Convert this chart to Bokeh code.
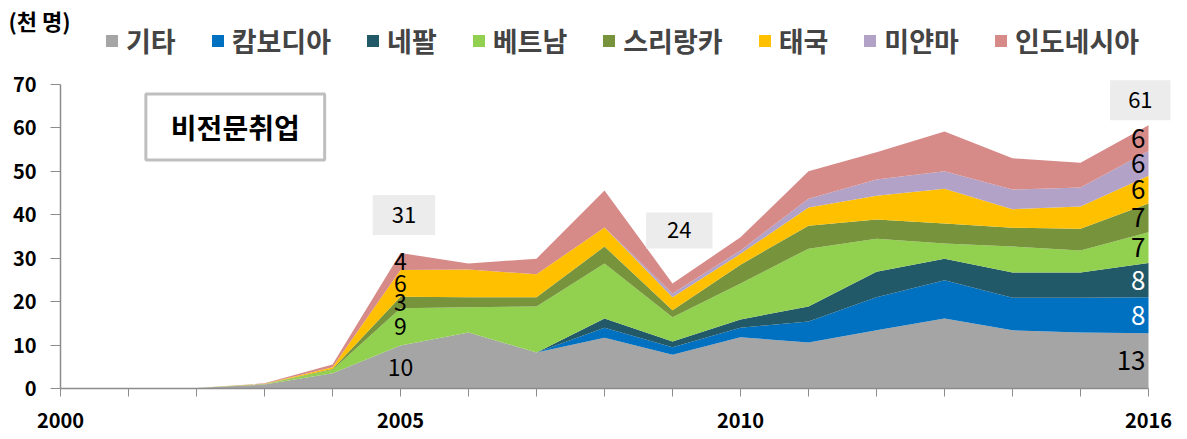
from bokeh.plotting import figure
from bokeh.models import ColumnDataSource, Range1d, FixedTicker, Legend, LegendItem, Label
from bokeh.core.properties import value
from bokeh.embed import file_html
from bokeh.resources import INLINE

# ---------------- data ----------------
years = list(range(2000, 2017))
series_names = ["기타", "캄보디아", "네팔", "베트남", "스리랑카", "태국", "미얀마", "인도네시아"]

etc_vals       = [0, 0, 0.1, 0.9, 3.5, 9.9, 12.9, 8.3, 11.7, 7.8, 11.8, 10.6, 13.4, 16.1, 13.4, 12.9, 12.7]
cambodia_vals  = [0, 0, 0, 0, 0, 0, 0, 0, 2.3, 1.7, 2.2, 4.8, 7.6, 8.8, 7.5, 8.0, 8.3]
nepal_vals     = [0, 0, 0, 0, 0, 0, 0, 0, 2.1, 1.3, 1.9, 3.5, 5.9, 5.0, 5.8, 5.8, 7.9]
vietnam_vals   = [0, 0, 0, 0.1, 0.8, 8.6, 5.8, 10.6, 12.7, 5.6, 8.3, 13.3, 7.6, 3.5, 6.0, 5.1, 7.1]
srilanka_vals  = [0, 0, 0, 0.05, 0.2, 2.6, 2.3, 2.1, 3.9, 1.6, 4.3, 5.3, 4.4, 4.6, 4.3, 5.0, 6.6]
thailand_vals  = [0, 0, 0, 0.05, 0.4, 6.2, 6.4, 5.3, 4.4, 3.0, 2.5, 4.2, 5.5, 8.0, 4.3, 5.1, 6.4]
myanmar_vals   = [0, 0, 0, 0, 0, 0, 0, 0, 0, 0.9, 0.8, 2.0, 3.7, 4.0, 4.5, 4.4, 5.7]
indonesia_vals = [0, 0, 0, 0.1, 0.6, 3.9, 1.4, 3.6, 8.5, 2.3, 3.0, 6.3, 6.3, 9.2, 7.2, 5.7, 5.9]

x_tick_labels = {2000: "2000", 2005: "2005", 2010: "2010", 2016: "2016"}
y_ticks = [0, 10, 20, 30, 40, 50, 60, 70]
unit_text = "(천 명)"
box_title = "비전문취업"
total_years = [2005, 2009, 2016]

# ---------------- layout / styles ----------------
W, H = 1187, 439
AX_L, AX_R, AX_T, AX_B = 60, 1148, 84, 388          # pixel box of the axes
X0, X1, Y0, Y1 = 2000, 2016, 0, 70
sx = (AX_R - AX_L) / (X1 - X0)
sy = (AX_B - AX_T) / (Y1 - Y0)

colors = ["#A5A5A5", "#0070C0", "#215968", "#92D050", "#77933C", "#FFC000", "#B3A2C7", "#D68B89"]
FONT = "Noto Sans CJK KR"

series_vals = [etc_vals, cambodia_vals, nepal_vals, vietnam_vals, srilanka_vals,
               thailand_vals, myanmar_vals, indonesia_vals]
data = {"year": years}
for n, v in zip(series_names, series_vals):
    data[n] = v
source = ColumnDataSource(data)

p = figure(width=W, height=H,
           x_range=Range1d(X0 - AX_L / sx, X1 + (W - AX_R) / sx),
           y_range=Range1d(Y0 - (H - AX_B) / sy, Y1 + AX_T / sy),
           output_backend="svg", toolbar_location=None,
           min_border=0, min_border_left=0, min_border_right=0, min_border_top=0, min_border_bottom=0)
p.outline_line_color = None
p.grid.visible = False
p.background_fill_color = "white"
p.border_fill_color = "white"

renderers = p.varea_stack(stackers=series_names, x="year", color=colors, source=source)

# axes (drawn at fixed data locations)
ax = p.xaxis[0]
ax.fixed_location = Y0
ax.bounds = (X0, X1)
ax.ticker = FixedTicker(ticks=years)
ax.major_label_overrides = {y: x_tick_labels.get(y, "") for y in years}
ax.major_label_text_font = FONT
ax.major_label_text_font_style = "bold"
ax.major_label_text_font_size = "20px"
ax.major_label_text_color = "black"
ax.major_label_standoff = 16
ax.major_tick_in = 0
ax.major_tick_out = 8
ax.minor_tick_line_color = None
ax.axis_line_color = "#8C8C8C"
ax.major_tick_line_color = "#8C8C8C"
ax.axis_line_width = 1.5

ay = p.yaxis[0]
ay.fixed_location = X0
ay.bounds = (Y0, Y1)
ay.ticker = FixedTicker(ticks=y_ticks)
ay.major_label_text_font = FONT
ay.major_label_text_font_style = "bold"
ay.major_label_text_font_size = "20px"
ay.major_label_text_color = "black"
ay.major_label_standoff = 14
ay.major_tick_in = 0
ay.major_tick_out = 10
ay.minor_tick_line_color = None
ay.axis_line_color = "#8C8C8C"
ay.major_tick_line_color = "#8C8C8C"
ay.axis_line_width = 1.5

# legend
items = [LegendItem(label=n, renderers=[r]) for n, r in zip(series_names, renderers)]
legend = Legend(items=items, orientation="horizontal", location=(104, 379),
                label_text_font=FONT, label_text_font_size="27px", label_text_font_style="bold",
                glyph_width=15, glyph_height=15, label_standoff=7, spacing=34,
                padding=0, margin=0, border_line_color=None, background_fill_alpha=0)
p.add_layout(legend)

# unit label
p.add_layout(Label(x=X0 + (8 - AX_L) / sx, y=Y1 + (AX_T - 19) / sy, text=unit_text,
                   text_align="left", text_baseline="middle",
                   text_font=FONT, text_font_style="bold", text_font_size="22px", text_color="black"))

# title box
p.add_layout(Label(x=2002.57, y=60.2, text=box_title, text_align="center", text_baseline="middle",
                   text_font=FONT, text_font_style="bold", text_font_size="28px", text_color="black",
                   background_fill_color="white", border_line_color="#BFBFBF", border_line_width=3,
                   padding=(25, 13)))

# totals
box_pos = {2005: (2005.05, 39.95), 2009: (2009.10, 36.4), 2016: (2015.88, 66.4)}
box_pad = {2005: (19, 12), 2009: (21, 10), 2016: (18, 12)}
for yr in total_years:
    i = years.index(yr)
    tot = sum(v[i] for v in series_vals)
    bx, by = box_pos[yr]
    p.add_layout(Label(x=bx, y=by, text=str(round(tot)), text_align="center", text_baseline="middle",
                       text_font=FONT, text_font_size="22px", text_color="black",
                       background_fill_color="#ECECEC", padding=box_pad[yr]))

# segment labels
def seg_labels(yr):
    i = years.index(yr)
    cum = 0
    ys, ts, cs = [], [], []
    for n, v in zip(series_names, series_vals):
        val = v[i]
        if val > 0:
            ys.append(cum + val / 2)
            ts.append(str(round(val)))
            cs.append("white" if n in ("캄보디아", "네팔") else "black")
        cum += val
    return ys, ts, cs

ys, ts, cs = seg_labels(2005)
src05 = ColumnDataSource(dict(x=[2005] * len(ys), y=ys, text=ts, color=cs))
p.text(x="x", y="y", text="text", source=src05, text_color="color", text_align="center",
       text_baseline="middle", text_font=value(FONT), text_font_size="23px")

ys, ts, cs = seg_labels(2016)
src16 = ColumnDataSource(dict(x=[2016] * len(ys), y=ys, text=ts, color=cs))
p.text(x="x", y="y", text="text", source=src16, text_color="color", text_align="right",
       x_offset=-3, text_baseline="middle", text_font=value(FONT), text_font_size="26px")

open("out.html", "w").write(file_html(p, INLINE))
